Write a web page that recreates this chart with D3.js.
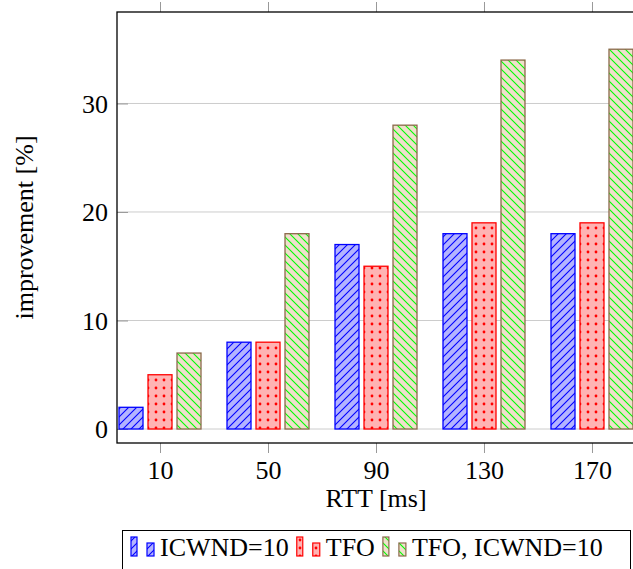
<!DOCTYPE html>
<html>
<head>
<meta charset="utf-8">
<script src="https://cdn.jsdelivr.net/npm/d3@7"></script>
<style>
  body { margin: 0; background: #fff; }
  svg { display: block; }
</style>
</head>
<body>
<div id="bar-chart"></div>
<script>
// Data
const rtts = [10, 50, 90, 130, 170];
const icwnd10 = [2, 8, 17, 18, 18];
const tfo = [5, 8, 15, 19, 19];
const tfoIcwnd10 = [7, 18, 28, 34, 35];
const seriesNames = ["ICWND=10", "TFO", "TFO, ICWND=10"];
const yTicks = [0, 10, 20, 30];

const drawBarChart = () => {

  /*******************************/
  /*    Declare the constants    */
  /*******************************/
  const width = 633;
  const height = 569;
  const plot = {left: 117, right: 635, top: 12, bottom: 443};
  const fontSize = 26;
  const serif = "Liberation Serif";

  const series = [
    {name: seriesNames[0], values: icwnd10, pattern: "pat-blue", stroke: "#0000ff", shift: -29},
    {name: seriesNames[1], values: tfo, pattern: "pat-red", stroke: "#ff0000", shift: 0},
    {name: seriesNames[2], values: tfoIcwnd10, pattern: "pat-green", stroke: "#8c6a4c", shift: 29}
  ];
  const barWidth = 24;

  const svg = d3.select("#bar-chart")
    .append("svg")
      .attr("width", width)
      .attr("height", height)
      .attr("font-family", serif);

  /****************************/
  /*    Fill patterns         */
  /****************************/
  const defs = svg.append("defs");
  const p = 8;

  const blue = defs.append("pattern")
    .attr("id", "pat-blue")
    .attr("patternUnits", "userSpaceOnUse")
    .attr("width", p).attr("height", p);
  blue.append("rect").attr("width", p).attr("height", p).attr("fill", "#b3b3ff");
  blue.append("path")
    .attr("d", `M0,${p} L${p},0 M-2,2 L2,-2 M${p - 2},${p + 2} L${p + 2},${p - 2}`)
    .attr("stroke", "#0000ff").attr("stroke-width", 1.1);

  const red = defs.append("pattern")
    .attr("id", "pat-red")
    .attr("patternUnits", "userSpaceOnUse")
    .attr("width", p).attr("height", p);
  red.append("rect").attr("width", p).attr("height", p).attr("fill", "#ffb3b3");
  red.append("circle").attr("cx", p / 2).attr("cy", p / 2).attr("r", 1.4).attr("fill", "#ff0000");

  const green = defs.append("pattern")
    .attr("id", "pat-green")
    .attr("patternUnits", "userSpaceOnUse")
    .attr("width", p).attr("height", p);
  green.append("rect").attr("width", p).attr("height", p).attr("fill", "#efe0cb");
  green.append("path")
    .attr("d", `M0,0 L${p},${p} M-2,${p - 2} L2,${p + 2} M${p - 2},-2 L${p + 2},2`)
    .attr("stroke", "#00ff00").attr("stroke-width", 1.1);

  /****************************/
  /*    Declare the scales    */
  /****************************/
  const xScale = d3.scaleLinear()
    .domain([-5.93, 185.93])
    .range([plot.left, plot.right]);

  const yScale = d3.scaleLinear()
    .domain([-1.29, 38.43])
    .range([plot.bottom, plot.top]);

  /***************************/
  /*     Grid and ticks      */
  /***************************/
  svg.append("g")
    .selectAll("line")
    .data(yTicks)
    .join("line")
      .attr("x1", plot.left)
      .attr("x2", plot.right)
      .attr("y1", d => yScale(d))
      .attr("y2", d => yScale(d))
      .attr("stroke", "#cccccc")
      .attr("stroke-width", 1);

  // Left axis: inward ticks and labels
  const leftAxis = d3.axisLeft(yScale)
    .tickValues(yTicks)
    .tickSizeInner(-11)
    .tickSizeOuter(0)
    .tickPadding(9);
  const gy = svg.append("g")
    .attr("transform", `translate(${plot.left}, 0)`)
    .call(leftAxis)
    .attr("font-family", serif)
    .attr("font-size", fontSize);
  gy.select(".domain").remove();
  gy.selectAll(".tick line").attr("stroke", "#999");
  gy.selectAll(".tick text").attr("dy", "0.33em");

  // Bottom axis: outward ticks and labels
  const bottomAxis = d3.axisBottom(xScale)
    .tickValues(rtts)
    .tickSizeInner(10)
    .tickSizeOuter(0)
    .tickPadding(8);
  const gx = svg.append("g")
    .attr("transform", `translate(0, ${plot.bottom})`)
    .call(bottomAxis)
    .attr("font-family", serif)
    .attr("font-size", fontSize);
  gx.select(".domain").remove();
  gx.selectAll(".tick line").attr("stroke", "#999");

  // Top axis: outward ticks only
  const topAxis = d3.axisTop(xScale)
    .tickValues(rtts)
    .tickSizeInner(10)
    .tickSizeOuter(0)
    .tickFormat("");
  const gt = svg.append("g")
    .attr("transform", `translate(0, ${plot.top})`)
    .call(topAxis);
  gt.select(".domain").remove();
  gt.selectAll(".tick line").attr("stroke", "#999");

  /***************************/
  /*          Bars           */
  /***************************/
  series.forEach(s => {
    svg.append("g")
      .selectAll("rect")
      .data(rtts.map((r, i) => ({rtt: r, value: s.values[i]})))
      .join("rect")
        .attr("x", d => xScale(d.rtt) + s.shift - barWidth / 2)
        .attr("y", d => yScale(d.value))
        .attr("width", barWidth)
        .attr("height", d => yScale(0) - yScale(d.value))
        .attr("fill", `url(#${s.pattern})`)
        .attr("stroke", s.stroke)
        .attr("stroke-width", 1.3);
  });

  // Axis box
  svg.append("rect")
    .attr("x", plot.left)
    .attr("y", plot.top)
    .attr("width", plot.right - plot.left)
    .attr("height", plot.bottom - plot.top)
    .attr("fill", "none")
    .attr("stroke", "#000")
    .attr("stroke-width", 1.3);

  /************************/
  /*      Add labels      */
  /************************/
  svg.append("text")
    .text("RTT [ms]")
    .attr("x", (plot.left + plot.right) / 2)
    .attr("y", 507)
    .attr("text-anchor", "middle")
    .attr("font-size", fontSize);

  svg.append("text")
    .text("improvement [%]")
    .attr("transform", `translate(33, ${(plot.top + plot.bottom) / 2}) rotate(-90)`)
    .attr("text-anchor", "middle")
    .attr("font-size", fontSize);

  /************************/
  /*        Legend        */
  /************************/
  const legend = svg.append("g");
  legend.append("rect")
    .attr("x", 122.5)
    .attr("y", 530.5)
    .attr("width", 508)
    .attr("height", 60)
    .attr("fill", "#fff")
    .attr("stroke", "#000")
    .attr("stroke-width", 1);

  let cursor = 131;
  const baseline = 556;
  series.forEach(s => {
    legend.append("rect")
      .attr("x", cursor)
      .attr("y", baseline - 19)
      .attr("width", 6)
      .attr("height", 19)
      .attr("fill", `url(#${s.pattern})`)
      .attr("stroke", s.stroke)
      .attr("stroke-width", 1.2);
    legend.append("rect")
      .attr("x", cursor + 16)
      .attr("y", baseline - 13)
      .attr("width", 7)
      .attr("height", 13)
      .attr("fill", `url(#${s.pattern})`)
      .attr("stroke", s.stroke)
      .attr("stroke-width", 1.2);
    const t = legend.append("text")
      .text(s.name)
      .attr("x", cursor + 29)
      .attr("y", baseline)
      .attr("font-size", fontSize);
    cursor += 29 + t.node().getComputedTextLength() + 8;
  });
};

drawBarChart();
</script>
</body>
</html>
